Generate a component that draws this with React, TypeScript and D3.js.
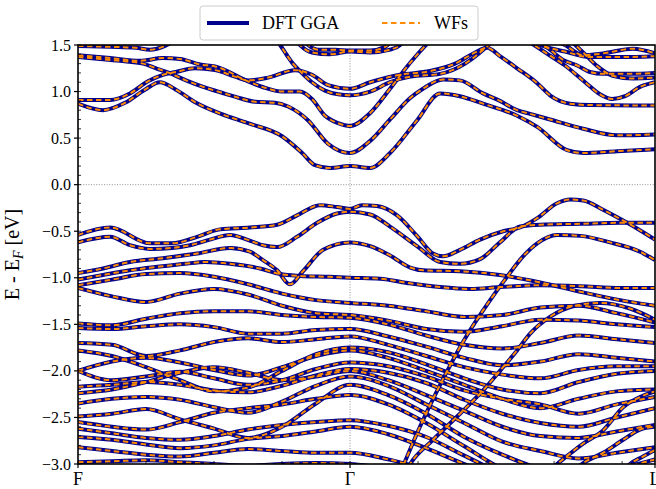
import React from "react";
import * as d3 from "d3";

// k-path: F (0) -> Γ (1) -> L (2.121), energies in eV relative to E_F
const kTicks = [0, 1, 2.121];
const kTickLabels = ["F", "Γ", "L"];
const kMinorStep = 0.25;
const eTicks = [-3.0, -2.5, -2.0, -1.5, -1.0, -0.5, 0.0, 0.5, 1.0, 1.5];
const eMinorStep = 0.1;

type Knot = [number, number];

// Conduction bands, [k, E] knots
const c1: Knot[] = [[0,.87],[.092,.80],[.173,.88],[.246,1.02],[.301,1.10],[.36,1.02],[.434,.88],[.526,.76],[.625,.66],[.75,.52],[.824,.34],[.871,.21],[.926,.18],[1,.20],[1.074,.18],[1.147,.34],[1.246,.69],[1.331,.98],[1.404,.95],[1.489,.87],[1.614,.74],[1.688,.62],[1.798,.37],[1.857,.34],[1.982,.36],[2.121,.38]];
const c2: Knot[] = [[0,.91],[.118,.91],[.191,.98],[.257,1.11],[.312,1.18],[.36,1.21],[.43,1.25],[.504,1.23],[.577,1.16],[.625,1.12],[.699,1.15],[.798,1.23],[.86,1.18],[.919,1.07],[1,1.03],[1.074,1.10],[1.184,1.18],[1.294,1.22],[1.386,1.30],[1.46,1.42],[1.504,1.47],[1.551,1.38],[1.614,1.25],[1.688,1.09],[1.735,.96],[1.809,.87],[1.882,.855],[2.121,.85]];
const c3: Knot[] = [[.713,1.62],[.743,1.5],[.768,1.39],[.79,1.30],[.816,1.22],[.86,1.10],[.908,1.01],[.956,.97],[1,.96],[1.074,1.0],[1.147,1.10],[1.221,1.16],[1.331,1.19],[1.423,1.30],[1.478,1.42],[1.515,1.52],[1.54,1.62]];
const c4: Knot[] = [[0,1.39],[.118,1.36],[.228,1.33],[.312,1.36],[.375,1.35],[.449,1.29],[.504,1.27],[.625,1.11],[.688,1.04],[.75,1.0],[.816,1.0],[.86,.92],[.908,.74],[.956,.66],[1,.63],[1.074,.77],[1.147,1.03],[1.21,1.27],[1.257,1.43],[1.294,1.55],[1.313,1.62]];
const c5: Knot[] = [[0,1.37],[.081,1.35],[.154,1.33],[.239,1.30],[.287,1.25],[.335,1.20],[.397,1.12],[.46,1.05],[.526,.99],[.577,.945],[.651,.89],[.724,.88],[.772,.84],[.846,.69],[.919,.44],[1,.34],[1.074,.47],[1.147,.70],[1.221,.93],[1.268,1.03],[1.342,1.13],[1.404,1.12],[1.489,.98],[1.551,.90],[1.614,.80],[1.662,.76],[1.735,.70],[1.857,.60],[1.982,.53],[2.121,.54]];
const c6: Knot[] = [[0,1.49],[.118,1.48],[.213,1.47],[.265,1.45],[.32,1.49],[.357,1.55]];
const c7: Knot[] = [[.787,1.6],[.816,1.5],[.86,1.42],[.926,1.40],[1,1.43],[1.074,1.42],[1.147,1.45],[1.184,1.5],[1.202,1.58]];
const c8: Knot[] = [[.816,1.6],[.846,1.5],[.882,1.45],[.945,1.45],[1,1.44],[1.074,1.44],[1.129,1.48],[1.154,1.55]];
const c9: Knot[] = [[1.688,1.55],[1.735,1.45],[1.783,1.34],[1.835,1.28],[1.882,1.21],[1.93,1.19],[2.029,1.19],[2.121,1.20]];
const c10: Knot[] = [[1.625,1.6],[1.717,1.42],[1.79,1.28],[1.864,1.10],[1.919,.97],[1.963,.92],[2.011,.95],[2.066,1.05],[2.121,1.10]];
const c11: Knot[] = [[1.717,1.6],[1.79,1.5],[1.857,1.39],[1.93,1.41],[2.04,1.46],[2.121,1.41]];
const c12: Knot[] = [[1.625,1.62],[1.699,1.50],[1.79,1.43],[1.882,1.37],[1.993,1.37],[2.121,1.38]];
const c13: Knot[] = [[1.81,1.55],[1.857,1.42],[1.91,1.27],[1.965,1.17],[2.04,1.14],[2.121,1.15]];

// Upper valence bands, [k, E] knots
const v1: Knot[] = [[0,-.54],[.118,-.46],[.265,-.63],[.346,-.63],[.438,-.56],[.522,-.48],[.632,-.46],[.732,-.43],[.805,-.33],[.89,-.22],[.952,-.24],[1,-.26],[1.044,-.22],[1.099,-.23],[1.173,-.33],[1.246,-.55],[1.305,-.74],[1.342,-.77],[1.404,-.70],[1.478,-.59],[1.563,-.50],[1.625,-.46],[1.688,-.36],[1.761,-.20],[1.809,-.16],[1.857,-.17],[1.93,-.27],[1.982,-.35],[2.055,-.47],[2.121,-.59]];
const v2: Knot[] = [[0,-.62],[.118,-.56],[.191,-.65],[.265,-.69],[.346,-.68],[.412,-.65],[.485,-.59],[.559,-.54],[.621,-.59],[.68,-.65],[.732,-.67],[.805,-.56],[.879,-.41],[.952,-.31],[1,-.29],[1.074,-.32],[1.147,-.45],[1.246,-.66],[1.331,-.83],[1.404,-.85],[1.478,-.80],[1.551,-.62],[1.625,-.45],[1.699,-.43],[1.846,-.42],[1.993,-.41],[2.121,-.41]];
const v3: Knot[] = [[0,-.95],[.092,-.90],[.191,-.83],[.312,-.79],[.438,-.74],[.559,-.68],[.632,-.72],[.68,-.81],[.732,-.92],[.779,-1.07],[.827,-.93],[.901,-.70],[1,-.62],[1.074,-.66],[1.147,-.76],[1.221,-.89],[1.268,-.92],[1.404,-.93],[1.551,-.97],[1.699,-1.05],[1.846,-1.15],[1.993,-1.24],[2.121,-1.30]];
const v4: Knot[] = [[0,-1.02],[.092,-.97],[.191,-.92],[.301,-.88],[.393,-.85],[.467,-.83],[.559,-.85],[.669,-.90],[.743,-.96],[.816,-.98],[.926,-.99],[1,-1.0],[1.11,-1.01],[1.221,-1.06],[1.331,-1.10],[1.441,-1.12],[1.551,-1.10],[1.699,-1.08],[1.846,-1.09],[1.993,-1.11],[2.121,-1.11]];
const h1: Knot[] = [[1.184,-3.1],[1.257,-2.6],[1.331,-2.15],[1.419,-1.67],[1.515,-1.24],[1.577,-.99],[1.636,-.77],[1.688,-.63],[1.761,-.54],[1.846,-.55],[1.956,-.62],[2.066,-.72],[2.121,-.81]];
const h2: Knot[] = [[1.184,-3.2],[1.221,-3.0],[1.305,-2.74],[1.404,-2.46],[1.489,-2.21],[1.551,-2.0],[1.614,-1.78],[1.662,-1.6],[1.735,-1.42],[1.827,-1.30],[1.919,-1.27],[2.029,-1.33],[2.121,-1.45]];
const r1: Knot[] = [[1.717,-3.1],[1.761,-3.0],[1.857,-2.78],[1.93,-2.64],[2.004,-2.39],[2.066,-2.28],[2.121,-2.22]];
const r2: Knot[] = [[1.809,-3.1],[1.857,-2.99],[1.93,-2.88],[2.004,-2.74],[2.066,-2.63],[2.121,-2.60]];
const r3: Knot[] = [[1.993,-3.1],[2.029,-3.0],[2.077,-2.92],[2.121,-2.85]];

// Deeper valence bands sampled on a common k grid
const kGrid = [0, .125, .25, .375, .5, .625, .75, .875, 1, 1.14, 1.28, 1.42, 1.56, 1.70, 1.84, 1.98, 2.121];
const d1 = [-1.08,-1.02,-.96,-.95,-.99,-1.07,-1.17,-1.24,-1.27,-1.30,-1.36,-1.42,-1.40,-1.32,-1.30,-1.38,-1.48];
const d2 = [-1.11,-1.20,-1.26,-1.17,-1.12,-1.18,-1.30,-1.38,-1.40,-1.46,-1.55,-1.58,-1.52,-1.45,-1.46,-1.50,-1.53];
const d3v = [-1.49,-1.51,-1.44,-1.38,-1.36,-1.36,-1.40,-1.42,-1.43,-1.50,-1.62,-1.72,-1.76,-1.70,-1.62,-1.66,-1.70];
const d4 = [-1.54,-1.55,-1.52,-1.50,-1.53,-1.60,-1.60,-1.56,-1.55,-1.63,-1.74,-1.86,-1.94,-1.90,-1.82,-1.86,-1.90];
const d5 = [-1.70,-1.72,-1.84,-1.78,-1.69,-1.65,-1.69,-1.66,-1.63,-1.72,-1.84,-1.96,-2.04,-2.08,-1.99,-1.95,-1.95];
const d6 = [-1.78,-1.84,-1.96,-2.10,-2.22,-2.18,-2.00,-1.82,-1.75,-1.80,-1.93,-2.08,-2.20,-2.24,-2.12,-2.03,-2.00];
const d7 = [-2.00,-1.90,-1.86,-1.91,-1.99,-2.05,-1.96,-1.84,-1.78,-1.86,-2.00,-2.15,-2.30,-2.40,-2.30,-2.22,-2.20];
const d8 = [-2.00,-2.10,-2.06,-2.01,-2.08,-2.15,-2.10,-1.98,-1.91,-1.95,-2.06,-2.21,-2.30,-2.36,-2.46,-2.36,-2.28];
const d9 = [-2.17,-2.15,-2.12,-2.15,-2.21,-2.23,-2.16,-2.05,-1.98,-2.02,-2.13,-2.31,-2.46,-2.56,-2.60,-2.50,-2.40];
const d10 = [-2.24,-2.20,-2.12,-2.02,-1.96,-2.02,-2.10,-2.06,-2.00,-2.10,-2.26,-2.43,-2.60,-2.70,-2.72,-2.65,-2.58];
const d11 = [-2.35,-2.30,-2.28,-2.31,-2.39,-2.45,-2.33,-2.16,-2.06,-2.16,-2.36,-2.56,-2.76,-2.86,-2.94,-2.88,-2.82];
const d12 = [-2.49,-2.46,-2.41,-2.52,-2.62,-2.72,-2.60,-2.35,-2.15,-2.26,-2.46,-2.71,-2.90,-3.05,-3.10,-3.05,-2.95];
const d13 = [-2.55,-2.60,-2.63,-2.55,-2.45,-2.40,-2.36,-2.30,-2.26,-2.36,-2.56,-2.81,-3.05,-3.15,-3.20,-3.10,-3.02];
const d14 = [-2.62,-2.67,-2.72,-2.74,-2.70,-2.63,-2.58,-2.55,-2.53,-2.59,-2.71,-2.91,-3.10,-3.20,-3.20,-3.20,-3.20];
const d15 = [-2.71,-2.74,-2.79,-2.83,-2.80,-2.73,-2.70,-2.65,-2.60,-2.68,-2.83,-3.00,-3.15,-3.20,-3.20,-3.20,-3.20];
const d16 = [-2.82,-2.86,-2.90,-2.92,-2.88,-2.84,-2.86,-2.88,-2.88,-2.95,-3.05,-3.10,-3.10,-3.10,-3.10,-3.10,-3.10];
const d17 = [-2.98,-2.97,-2.96,-2.98,-3.00,-3.02,-3.00,-2.99,-3.00,-3.05,-3.10,-3.10,-3.10,-3.10,-3.10,-3.10,-3.10];

const deepBands = [d1, d2, d3v, d4, d5, d6, d7, d8, d9, d10, d11, d12, d13, d14, d15, d16, d17];

const knotBands: Knot[][] = [
  c1, c2, c3, c4, c5, c6, c7, c8, c9, c10, c11, c12, c13,
  v1, v2, v3, v4, h1, h2, r1, r2, r3,
];

const W = 656;
const H = 489;
const M = { left: 78, right: 655, top: 45, bottom: 464 };
const FONT = "'Liberation Serif', 'Times New Roman', serif";

export default function App() {
  const x = d3.scaleLinear().domain([0, 2.121]).range([M.left, M.right]);
  const y = d3.scaleLinear().domain([-3, 1.5]).range([M.bottom, M.top]);
  const line = d3
    .line<Knot>()
    .x((d) => x(d[0]))
    .y((d) => y(d[1]))
    .curve(d3.curveMonotoneX);

  const bands: Knot[][] = [
    ...knotBands,
    ...deepBands.map((es) => es.map((e, i) => [kGrid[i], e] as Knot)),
  ];

  const kMinor = d3.range(0, 2.121 + 1e-9, kMinorStep);
  const eMinor = d3.range(-3, 1.5 + 1e-9, eMinorStep);

  return (
    <svg
      width={W}
      height={H}
      style={{ position: "absolute", left: 0, top: 0, background: "#fff" }}
      fontFamily={FONT}
    >
      <defs>
        <clipPath id="plot-area">
          <rect x={M.left} y={M.top} width={M.right - M.left} height={M.bottom - M.top} />
        </clipPath>
      </defs>

      {/* reference lines at Γ and E_F */}
      <line x1={x(1)} x2={x(1)} y1={M.top} y2={M.bottom} stroke="#777" strokeWidth={0.8} strokeDasharray="1,1.6" />
      <line x1={M.left} x2={M.right} y1={y(0)} y2={y(0)} stroke="#777" strokeWidth={0.8} strokeDasharray="1,1.6" />

      <g clipPath="url(#plot-area)" fill="none">
        {bands.map((b, i) => (
          <path key={"dft" + i} d={line(b) ?? ""} stroke="#00008b" strokeWidth={4} />
        ))}
        {bands.map((b, i) => (
          <path key={"wf" + i} d={line(b) ?? ""} stroke="#ff8c00" strokeWidth={2} strokeDasharray="5.5,3.5" />
        ))}
      </g>

      {/* frame */}
      <rect x={M.left} y={M.top} width={M.right - M.left} height={M.bottom - M.top} fill="none" stroke="#000" strokeWidth={1.6} />

      {/* energy ticks */}
      {eMinor.map((e, i) => (
        <line key={"ym" + i} x1={M.left} x2={M.left + 3} y1={y(e)} y2={y(e)} stroke="#000" strokeWidth={0.8} />
      ))}
      {eTicks.map((e) => (
        <g key={"y" + e}>
          <line x1={M.left - 4} x2={M.left} y1={y(e)} y2={y(e)} stroke="#000" strokeWidth={1.2} />
          <text x={M.left - 7} y={y(e)} dy="0.35em" textAnchor="end" fontSize={16} fontFamily={FONT}>
            {d3.format(".1f")(e).replace("-", "\u2212")}
          </text>
        </g>
      ))}

      {/* k-point ticks */}
      {kMinor.map((k, i) => (
        <line key={"xm" + i} x1={x(k)} x2={x(k)} y1={M.bottom} y2={M.bottom - 3} stroke="#000" strokeWidth={0.8} />
      ))}
      {kTicks.map((k, i) => (
        <g key={"x" + i}>
          <line x1={x(k)} x2={x(k)} y1={M.bottom} y2={M.bottom + 4} stroke="#000" strokeWidth={1.2} />
          <text x={x(k)} y={485} textAnchor="middle" fontSize={18} fontFamily={FONT}>
            {kTickLabels[i]}
          </text>
        </g>
      ))}

      {/* axis label */}
      <text transform={`translate(19,${(M.top + M.bottom) / 2}) rotate(-90)`} textAnchor="middle" fontSize={20} fontFamily={FONT}>
        E - E<tspan fontStyle="italic" fontSize={14} dy={4}>F</tspan>
        <tspan dy={-4}> [eV]</tspan>
      </text>

      {/* legend */}
      <g>
        <rect x={200} y={6} width={278} height={34} rx={3} fill="#fff" stroke="#ccc" strokeWidth={1} />
        <line x1={207} x2={249} y1={23} y2={23} stroke="#00008b" strokeWidth={4} />
        <text x={262} y={29} fontSize={18} fontFamily={FONT}>DFT GGA</text>
        <line x1={382} x2={420} y1={23} y2={23} stroke="#ff8c00" strokeWidth={2} strokeDasharray="5.5,3.5" />
        <text x={434} y={29} fontSize={18} fontFamily={FONT}>WFs</text>
      </g>
    </svg>
  );
}
